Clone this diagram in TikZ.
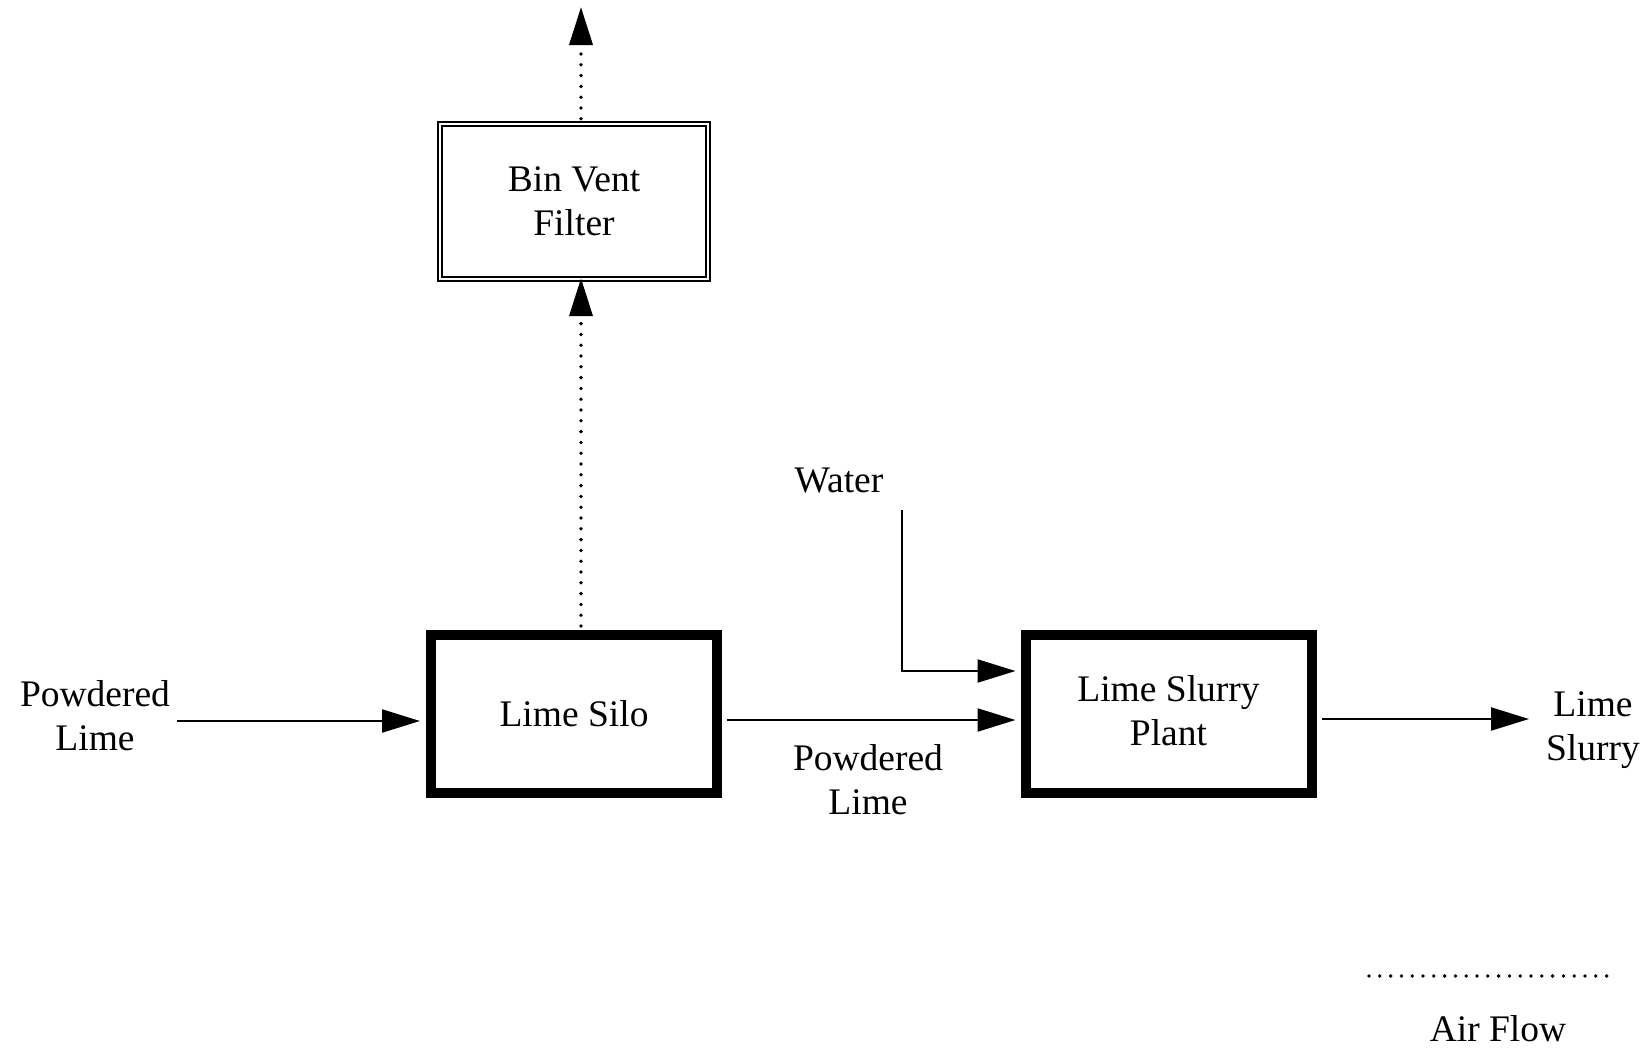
\documentclass[tikz,border=0pt]{standalone}
\usepackage{fontspec}
\setmainfont{Liberation Serif}
\usetikzlibrary{arrows.meta,calc}
\begin{document}
\begin{tikzpicture}[x=0.5pt,y=-0.5pt,
  every node/.style={font=\fontsize{18.75pt}{22pt}\selectfont, align=center, inner sep=0pt},
  heavybox/.style={draw, line width=5pt, minimum width=143pt, minimum height=79pt},
  dblbox/.style={draw, double, line width=1.2pt, double distance=1pt, minimum width=134pt, minimum height=77.5pt},
  arr/.style={line width=1.1pt, -{Triangle[length=19pt,width=11.5pt]}},
  airflow/.style={line width=1.9pt, line cap=round, dash pattern=on 0pt off 5.4pt},
  airarr/.style={airflow, -{Triangle[length=19pt,width=11.5pt]}}
]
\useasboundingbox (0,0) rectangle (1651,1050);
% boxes
\node[heavybox] (silo) at (574,714) {Lime Silo};
\node[heavybox, text depth=3pt] (plant) at (1168.5,713.5) {Lime Slurry\\Plant};
\node[dblbox] (bin) at (574,201.5) {Bin Vent\\Filter};
% labels
\node (plin) at (95,716) {Powdered\\Lime};
\node (plmid) at (868,780) {Powdered\\Lime};
\node (slout) at (1593,730) {Lime\\Slurry};
\node (water) at (839,481) {Water};
\node (air) at (1498,1029) {Air Flow};
% free ends
\coordinate (plstart) at (177,721);
\coordinate (slend) at (1529,719);
\coordinate (wtop) at (902,510);
\coordinate (wcorner) at (902,671);
\coordinate (vx) at (581,0);
\coordinate (toptip) at (581,7);
\coordinate (legA) at (1369,976);
\coordinate (legB) at (1608,976);
% solid connectors
\draw[arr, shorten >=3pt] (plstart) -- (plstart -| silo.west);
\draw[arr, shorten <=2.5pt, shorten >=2.5pt] (silo.east |- 0,720) -- (plant.west |- 0,720);
\draw[arr, shorten <=2.5pt] (plant.east |- slend) -- (slend);
\draw[arr, shorten >=2.5pt] (wtop) -- (wcorner) -- (wcorner -| plant.west);
% air flow
\draw[airarr, shorten >=-1pt] ($(vx |- silo.north)+(0,-4)$) -- (vx |- bin.south);
\draw[airarr] ($(vx |- bin.north)+(0,-4)$) -- (toptip);
\draw[airflow] (legA) -- (legB);
\end{tikzpicture}
\end{document}
